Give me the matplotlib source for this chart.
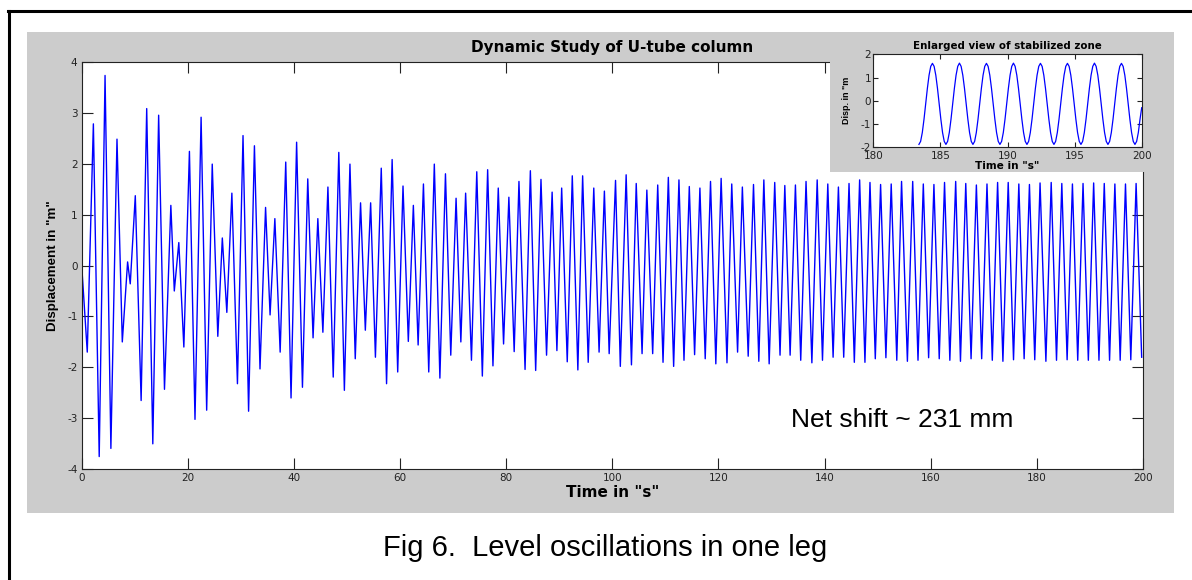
import numpy as np
import matplotlib
matplotlib.use('Agg')
import matplotlib.pyplot as plt
from matplotlib.patches import Rectangle
from matplotlib.lines import Line2D

plt.rcParams['axes.unicode_minus'] = False

# turning points of the level signal (time in s, displacement in m)
main_t = [0.0, 1.05, 2.2, 3.3, 4.4, 5.5, 6.65, 7.65, 8.65, 9.15, 10.1, 11.2, 12.25, 13.4,
          14.5, 15.6, 16.8, 17.45, 18.3, 19.25, 20.3, 21.35, 22.5, 23.55, 24.6, 25.65,
          26.5, 27.35, 28.3, 29.35, 30.4, 31.45, 32.55, 33.6, 34.65, 35.5, 36.4, 37.4,
          38.45, 39.45, 40.5, 41.6, 42.6, 43.6, 44.5, 45.45, 46.4, 47.4, 48.45, 49.5,
          50.55, 51.55, 52.55, 53.45, 54.45, 55.35, 56.45, 57.45, 58.5, 59.55, 60.55,
          61.55, 62.5, 63.4, 64.4, 65.4, 66.45, 67.5, 68.55, 69.55, 70.55, 71.45, 72.35,
          73.45, 74.45, 75.5, 76.5, 77.5, 78.5, 79.5, 80.5, 81.5, 82.4, 83.55, 84.55,
          85.55, 86.55, 87.6, 88.65, 89.55, 90.45, 91.5, 92.45, 93.5, 94.4, 95.45, 96.5,
          97.5, 98.5, 99.4, 100.6, 101.5, 102.6, 103.6, 104.5, 105.6, 106.5, 107.6,
          108.55, 109.55, 110.55, 111.55, 112.55, 113.5, 114.5, 115.5, 116.5, 117.5,
          118.5, 119.5, 120.5, 121.6, 122.5, 123.6, 124.5, 125.6, 126.6, 127.6, 128.55,
          129.55, 130.6, 131.6, 132.5, 133.5, 134.5, 135.5, 136.5, 137.6, 138.6, 139.6,
          140.6, 141.6, 142.6, 143.6, 144.6, 145.6, 146.6, 147.6, 148.55, 149.55, 150.55,
          151.55, 152.55, 153.6, 154.5, 155.6, 156.6, 157.6, 158.6, 159.6, 160.6, 161.6,
          162.6, 163.6, 164.7, 165.6, 166.6, 167.6, 168.6, 169.6, 170.6, 171.6, 172.6,
          173.6, 174.6, 175.6, 176.6, 177.6, 178.6, 179.6, 180.6, 181.7, 182.7, 183.7,
          184.7, 185.7, 186.7, 187.7, 188.7, 189.7, 190.7, 191.7, 192.7, 193.7, 194.7,
          195.7, 196.7, 197.7, 198.7, 199.75]
main_disp = [0.0, -1.70, 2.78, -3.75, 3.73, -3.59, 2.48, -1.50, 0.07, -0.36, 1.37, -2.65,
             3.08, -3.50, 2.95, -2.43, 1.18, -0.50, 0.45, -1.60, 2.24, -3.02, 2.91, -2.84,
             1.99, -1.39, 0.54, -0.92, 1.42, -2.32, 2.55, -2.86, 2.35, -2.03, 1.14, -0.97,
             0.92, -1.70, 2.03, -2.60, 2.42, -2.39, 1.70, -1.42, 0.92, -1.31, 1.54, -2.19,
             2.22, -2.45, 1.99, -1.83, 1.23, -1.27, 1.23, -1.80, 1.91, -2.32, 2.08, -2.09,
             1.56, -1.49, 1.18, -1.56, 1.60, -2.09, 1.99, -2.21, 1.80, -1.76, 1.32, -1.50,
             1.42, -1.86, 1.84, -2.17, 1.88, -1.97, 1.52, -1.54, 1.34, -1.69, 1.65, -2.04,
             1.86, -2.06, 1.69, -1.76, 1.44, -1.67, 1.52, -1.89, 1.76, -2.05, 1.76, -1.90,
             1.52, -1.70, 1.46, -1.73, 1.67, -1.98, 1.78, -1.95, 1.61, -1.73, 1.48, -1.73,
             1.58, -1.90, 1.73, -1.98, 1.68, -1.86, 1.55, -1.75, 1.52, -1.83, 1.65, -1.93,
             1.71, -1.91, 1.60, -1.70, 1.54, -1.78, 1.59, -1.88, 1.68, -1.93, 1.63, -1.76,
             1.57, -1.76, 1.58, -1.86, 1.65, -1.91, 1.68, -1.86, 1.60, -1.80, 1.54, -1.80,
             1.61, -1.90, 1.68, -1.90, 1.63, -1.83, 1.59, -1.81, 1.60, -1.86, 1.65, -1.88,
             1.65, -1.86, 1.60, -1.81, 1.59, -1.83, 1.63, -1.86, 1.65, -1.88, 1.61, -1.83,
             1.58, -1.83, 1.60, -1.86, 1.63, -1.88, 1.63, -1.85, 1.60, -1.83, 1.59, -1.85,
             1.62, -1.88, 1.63, -1.86, 1.61, -1.85, 1.60, -1.86, 1.61, -1.86, 1.62, -1.86,
             1.61, -1.86, 1.60, -1.86, 1.60, -1.85, 1.61, -1.80]

# enlarged view, sampled every ~1/8 s from 183.4 s to 200 s
inset_start, inset_end = 183.4, 200.0
inset_disp = [-1.88, -1.75, -1.37, -0.80, -0.13, 0.53, 1.10, 1.48, 1.61, 1.48, 1.10, 0.53, -0.13, -0.80, -1.37, -1.75,
              -1.88, -1.75, -1.37, -0.80, -0.13, 0.53, 1.10, 1.48, 1.62, 1.48, 1.10, 0.53, -0.13, -0.80, -1.37, -1.75,
              -1.88, -1.75, -1.37, -0.80, -0.13, 0.53, 1.10, 1.48, 1.61, 1.48, 1.10, 0.53, -0.13, -0.80, -1.37, -1.75,
              -1.88, -1.75, -1.37, -0.80, -0.13, 0.53, 1.10, 1.48, 1.62, 1.48, 1.10, 0.53, -0.13, -0.80, -1.37, -1.75,
              -1.88, -1.75, -1.37, -0.80, -0.13, 0.53, 1.10, 1.48, 1.61, 1.48, 1.10, 0.53, -0.13, -0.80, -1.37, -1.75,
              -1.88, -1.75, -1.37, -0.80, -0.13, 0.53, 1.10, 1.48, 1.61, 1.48, 1.10, 0.53, -0.13, -0.80, -1.37, -1.75,
              -1.88, -1.75, -1.37, -0.80, -0.13, 0.53, 1.10, 1.48, 1.62, 1.48, 1.10, 0.53, -0.13, -0.80, -1.37, -1.75,
              -1.88, -1.75, -1.37, -0.80, -0.13, 0.53, 1.10, 1.48, 1.61, 1.48, 1.10, 0.53, -0.13, -0.80, -1.37, -1.75,
              -1.88, -1.75, -1.37, -0.80, -0.30]
inset_t = np.linspace(inset_start, inset_end, len(inset_disp))

main_xticks = list(range(0, 201, 20))
main_yticks = list(range(-4, 5))
inset_xticks = list(range(180, 201, 5))
inset_yticks = list(range(-2, 3))

W, H = 1192, 580
fig = plt.figure(figsize=(W / 100, H / 100), dpi=100)
fig.patch.set_facecolor('white')

def fx(px):
    return px / W

def fy(py):
    return 1 - py / H

# grey matlab figure area
fig.patches.append(Rectangle((fx(27), fy(513)), fx(1174) - fx(27), fy(32) - fy(513),
                             transform=fig.transFigure, facecolor='#cccccc',
                             edgecolor='none', zorder=-1))
# grey area behind the inset, covers the main axes
fig.patches.append(Rectangle((fx(830), fy(172)), fx(1174) - fx(830), fy(32) - fy(172),
                             transform=fig.transFigure, facecolor='#cccccc',
                             edgecolor='none', zorder=1))
# document frame (top and left)
fig.lines.append(Line2D([fx(8), 1.0], [fy(11), fy(11)], transform=fig.transFigure,
                        color='black', lw=2.2))
fig.lines.append(Line2D([fx(9), fx(9)], [fy(11), 0.0], transform=fig.transFigure,
                        color='black', lw=2.2))

ax = fig.add_axes([fx(81.7), fy(469.3), fx(1143) - fx(81.7), fy(61.7) - fy(469.3)], zorder=0)
ax.plot(main_t, main_disp, color='#0000ff', lw=1.0)
ax.set_xlim(0, 200)
ax.set_ylim(-4, 4)
ax.set_xticks(main_xticks)
ax.set_yticks(main_yticks)
ax.tick_params(direction='in', length=8, width=0.8, top=True, right=True,
               labelsize=7.5, pad=3, colors='#222222')
for s in ax.spines.values():
    s.set_color('#222222')
    s.set_linewidth(0.8)
ax.set_title('Dynamic Study of U-tube column', fontsize=11, fontweight='bold', pad=7)
ax.set_xlabel('Time in "s"', fontsize=11, fontweight='bold', labelpad=1)
ax.set_ylabel('Displacement in "m"', fontsize=9.6, fontweight='bold',
              family='Liberation Sans', labelpad=6)
ax.text(133.6, -3.04, 'Net shift ~ 231 mm', fontsize=19, family='Liberation Sans',
        ha='left', va='center')

ax2 = fig.add_axes([fx(873.3), fy(147.2), fx(1141.7) - fx(873.3), fy(54.3) - fy(147.2)],
                   zorder=2)
ax2.plot(inset_t, inset_disp, color='#0000ff', lw=0.9)
ax2.set_xlim(180, 200)
ax2.set_ylim(-2, 2)
ax2.set_xticks(inset_xticks)
ax2.set_yticks(inset_yticks)
ax2.tick_params(direction='in', length=3.5, width=0.8, top=True, right=True,
                labelsize=7.5, pad=1.5, colors='#222222')
ax2.tick_params(axis='x', pad=3)
for s in ax2.spines.values():
    s.set_color('#222222')
    s.set_linewidth(0.8)
ax2.set_title('Enlarged view of stabilized zone', fontsize=7.4, fontweight='bold', pad=4)
ax2.set_xlabel('Time in "s"', fontsize=7.6, fontweight='bold', labelpad=0)
ax2.set_ylabel('Disp. in "m', fontsize=6.5, fontweight='bold', family='Liberation Sans',
               labelpad=7)

fig.text(fx(605.5), fy(548), 'Fig 6.  Level oscillations in one leg', fontsize=21,
         family='Liberation Sans', ha='center', va='center')

fig.savefig('out.png', dpi=100)
